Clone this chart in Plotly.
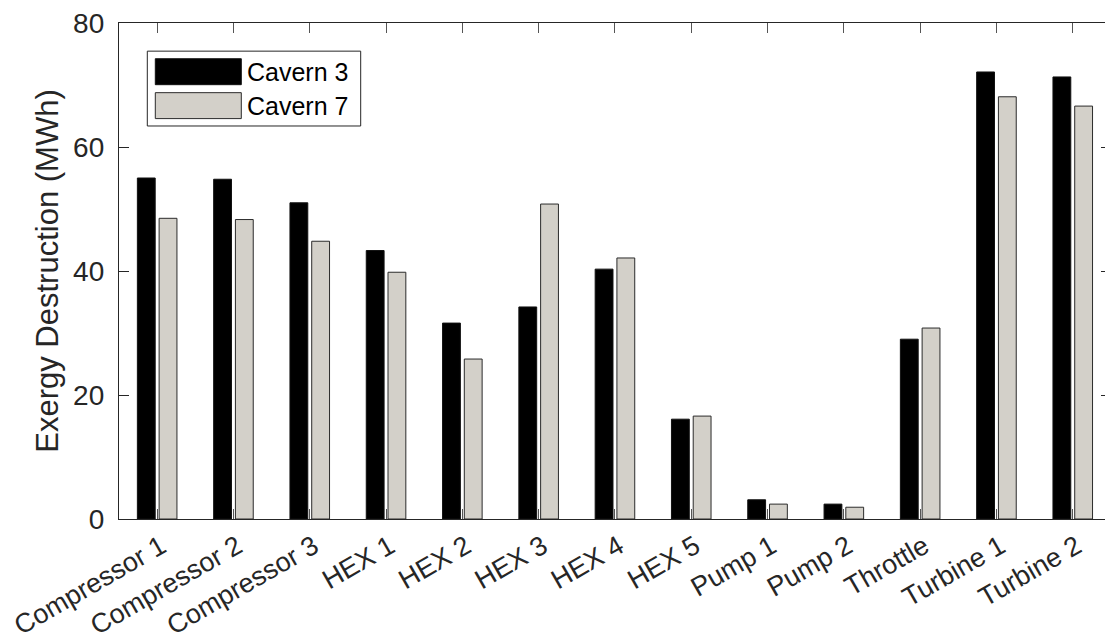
import plotly.graph_objects as go

# Exergy destruction per component for two cavern configurations (MWh)
components = ["Compressor 1", "Compressor 2", "Compressor 3", "HEX 1", "HEX 2",
              "HEX 3", "HEX 4", "HEX 5", "Pump 1", "Pump 2", "Throttle",
              "Turbine 1", "Turbine 2"]
cavern_3 = [55.0, 54.8, 51.0, 43.3, 31.6, 34.2, 40.3, 16.1, 3.1, 2.4, 29.0, 72.1, 71.3]
cavern_7 = [48.5, 48.3, 44.8, 39.8, 25.8, 50.8, 42.1, 16.6, 2.4, 1.9, 30.8, 68.1, 66.6]
series_names = ["Cavern 3", "Cavern 7"]
y_ticks = [0, 20, 40, 60, 80]

# styling
W, H = 1105, 643
L_PX, T_PX, B_PX = 119, 22.5, 519.5
AX_COLOR = "#262626"
FILL = ["#000000", "#d3d0c9"]
EDGE = ["#111111", "#2b2b2b"]
FONT = "Liberation Sans, Arial, Helvetica, sans-serif"

fig = go.Figure()
for name, vals, fc, ec in zip(series_names, [cavern_3, cavern_7], FILL, EDGE):
    fig.add_trace(go.Bar(x=components, y=vals, name=name,
                         marker=dict(color=fc, line=dict(color=ec, width=1)),
                         showlegend=False))

# empty helper trace so the right-hand tick axis is drawn
fig.add_trace(go.Scatter(x=[], y=[], yaxis="y2", showlegend=False, hoverinfo="skip"))

plot_w = W - L_PX
plot_h = B_PX - T_PX
cat_px = 76.3
x_hi = -0.5 + plot_w / cat_px


def px_x(p):
    return (p - L_PX) / plot_w


def px_y(p):
    return (B_PX - p) / plot_h


# legend drawn as a framed box with large swatches
shapes = [
    dict(type="rect", xref="paper", yref="paper",
         x0=px_x(147.3), x1=px_x(360.7), y0=px_y(125.7), y1=px_y(50.7),
         line=dict(color=AX_COLOR, width=1), fillcolor="white", layer="above"),
]
annotations = []
for i, (name, fc, ec) in enumerate(zip(series_names, FILL, EDGE)):
    top = 58.3 + i * 34
    shapes.append(dict(type="rect", xref="paper", yref="paper",
                       x0=px_x(155.3), x1=px_x(241.3), y0=px_y(top + 26), y1=px_y(top),
                       line=dict(color=ec, width=1), fillcolor=fc, layer="above"))
    annotations.append(dict(text=name, xref="paper", yref="paper",
                            x=px_x(245), y=px_y(top + 13), xanchor="left", yanchor="middle",
                            showarrow=False, font=dict(family=FONT, size=25, color="#000000")))

fig.update_layout(
    width=W, height=H,
    margin=dict(l=L_PX, r=0, t=T_PX, b=H - B_PX, pad=0, autoexpand=False),
    paper_bgcolor="white", plot_bgcolor="white",
    barmode="group", bargap=0.43, bargroupgap=0.18,
    font=dict(family=FONT, size=28, color=AX_COLOR),
    shapes=shapes, annotations=annotations,
    xaxis=dict(range=[-0.5, x_hi], showgrid=False, zeroline=False, automargin=False,
               showline=True, linecolor=AX_COLOR, linewidth=1.3, mirror="ticks",
               ticks="inside", ticklen=10, tickwidth=1.3, tickcolor="#555555",
               tickangle=-30, ticklabelstandoff=0, ticklabelshift=4,
               tickfont=dict(size=27, color=AX_COLOR, family=FONT)),
    yaxis=dict(range=[0, 80], tickvals=y_ticks, showgrid=False, zeroline=False,
               automargin=False,
               showline=True, linecolor=AX_COLOR, linewidth=1.3, mirror=False,
               ticks="inside", ticklen=10, tickwidth=1.3, tickcolor=AX_COLOR,
               ticklabelstandoff=8,
               tickfont=dict(size=28, color=AX_COLOR, family=FONT),
               title=dict(text="Exergy Destruction (MWh)", standoff=5,
                          font=dict(size=31, color=AX_COLOR, family=FONT))),
    yaxis2=dict(range=[0, 80], tickvals=y_ticks, overlaying="y", side="right",
                anchor="x", showgrid=False, zeroline=False, showline=False,
                automargin=False,
                ticks="inside", ticklen=4, tickwidth=1.3, tickcolor=AX_COLOR,
                showticklabels=False),
)

fig.write_html("out.html")
